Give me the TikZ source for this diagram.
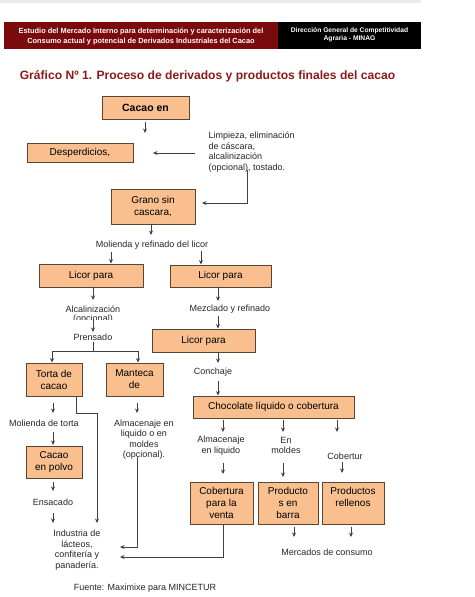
\documentclass[tikz,border=0pt]{standalone}
\usepackage{fontspec}
\setmainfont{Liberation Sans}
\usetikzlibrary{arrows.meta,calc}
\definecolor{boxfill}{HTML}{F9BF8F}
\definecolor{boxline}{HTML}{5A4535}
\definecolor{hdrred}{HTML}{7A0A0C}
\definecolor{titred}{HTML}{8B1A1A}
\definecolor{conn}{HTML}{404040}
\tikzset{
  box/.style={draw=boxline, line width=0.9pt, fill=boxfill, align=center, inner sep=1pt,
    font=\fontsize{10}{12}\selectfont},
  txt/.style={align=center, inner sep=0.5pt, font=\fontsize{9}{10.5}\selectfont, text=black!85},
  arr/.style={draw=conn, line width=0.75pt, -{Stealth[length=4.5pt,width=4pt]}},
  ln/.style={draw=conn, line width=0.75pt},
}
\begin{document}
\begin{tikzpicture}[x=1pt,y=-1pt]
\useasboundingbox (0,0) rectangle (474,597);
\fill[white] (0,0) rectangle (474,597);
\fill[black!8] (0,0) rectangle (421,3);
% header
\fill[hdrred] (4,22) rectangle (278,49);
\fill[black] (278,22) rectangle (421,49);
\node[align=center, text=white, font=\bfseries\fontsize{7.4}{10}\selectfont, inner sep=0] (hdrL) at (141,36.5)
  {Estudio del Mercado Interno para determinación y caracterización del\\Consumo actual y potencial de Derivados Industriales del Cacao};
\node[align=center, text=white, font=\bfseries\fontsize{6.7}{8.5}\selectfont, inner sep=0] (hdrR) at (349.5,35)
  {Dirección General de Competitividad\\Agraria - MINAG};
\node[text=titred, font=\bfseries\fontsize{12.1}{14}\selectfont, inner sep=0] (title) at (207.5,76)
  {Gráfico Nº 1. Proceso de derivados y productos finales del cacao};

% boxes
\node[box, minimum width=87, minimum height=23, font=\bfseries\fontsize{10.5}{12}\selectfont] (cacao) at (145.5,107.5) {Cacao en};
\node[box, minimum width=106, minimum height=19] (desp) at (80,152.5) {Desperdicios,};
\node[box, minimum width=84, minimum height=35] (grano) at (153,206.5) {Grano sin\\cascara,};
\node[box, minimum width=104, minimum height=23] (licA) at (91,275.5) {Licor para};
\node[box, minimum width=101, minimum height=22] (licB) at (220.5,276) {Licor para};
\node[box, minimum width=103, minimum height=23] (licC) at (203.5,340.5) {Licor para};
\node[box, minimum width=56, minimum height=33] (torta) at (54,379.5) {Torta de\\cacao};
\node[box, minimum width=57, minimum height=33] (mant) at (134.5,379.5) {Manteca\\de};
\node[box, minimum width=161, minimum height=22] (choc) at (273.5,407) {Chocolate líquido o cobertura};
\node[box, minimum width=56, minimum height=32] (polvo) at (54,462) {Cacao\\en polvo};
\node[box, minimum width=63, minimum height=42] (cobV) at (221.5,503) {Cobertura\\para la\\venta};
\node[box, minimum width=60, minimum height=42] (barra) at (288,503) {Producto\\s en\\barra};
\node[box, minimum width=62, minimum height=42] (rell) at (353,503) {Productos\\rellenos\\\mbox{}};

% text
\node[txt, align=left, anchor=west] (limp) at (208,152) {Limpieza, eliminación\\de cáscara,\\alcalinización\\(opcional), tostado.};
\node[txt] (mol) at (152,245) {Molienda y refinado del licor};
\node[txt] (alc) at (93,309) {Alcalinización};
\begin{scope}
\clip (40,313) rectangle (150,319.5);
\node[txt] (opc) at (93,319) {(opcional)};
\end{scope}
\node[txt] (pren) at (93,337) {Prensado};
\node[txt] (mez) at (230,309) {Mezclado y refinado};
\node[txt] (conch) at (213,372) {Conchaje};
\node[txt] (moltorta) at (44,423) {Molienda de torta};
\node[txt] (alm1) at (144,439.5) {Almacenaje en\\liquido o en\\moldes\\(opcional).};
\node[txt] (alm2) at (221,445.5) {Almacenaje\\en liquido};
\node[txt] (enm) at (286,445.5) {En\\moldes};
\node[txt] (cobT) at (345,456) {Cobertur};
\node[txt] (ens) at (53,502) {Ensacado};
\node[txt] (ind) at (77,550) {Industria de\\lácteos,\\confitería y\\panadería.};
\node[txt] (merc) at (327,552) {Mercados de consumo};
\node[txt] (fuente) at (145,588) {Fuente: Maximixe para MINCETUR};

% connectors
\coordinate (c1) at (145,133);
\draw[arr] ([yshift=-3pt]cacao.south -| c1) -- (c1);
\coordinate (l1) at (195,153);
\coordinate (d1) at (153,153);
\draw[arr] (l1) -- (d1);
\coordinate (l2) at (247,170);
\coordinate (g1) at (202,203);
\draw[arr] (l2) |- (g1);
\coordinate (g2) at (151,235);
\draw[arr] (grano.south -| g2) -- (g2);
\coordinate (q1) at (111,252);
\draw[arr] (q1) -- (licA.north -| q1);
\coordinate (q2) at (201,251);
\draw[arr] (q2) -- (licB.north -| q2);
\coordinate (a1) at (93,300);
\draw[arr] (licA.south -| a1) -- (a1);
\coordinate (a2) at (93,319);
\draw[arr] (a2) -- ([yshift=1pt]pren.north);
\coordinate (p1) at (93,351);
\coordinate (p2) at (52,351);
\coordinate (p3) at (138,351);
\draw[ln] ([yshift=-1pt]pren.south) -- (p1);
\draw[ln] (p2) -- (p3);
\draw[arr] (p2) -- (torta.north -| p2);
\draw[arr] (p3) -- (mant.north -| p3);
\coordinate (m1) at (218,301);
\draw[arr] (licB.south -| m1) -- (m1);
\coordinate (m2) at (218,316);
\draw[arr] (m2) -- (licC.north -| m2);
\coordinate (k1) at (218,363);
\draw[arr] (licC.south -| k1) -- (k1);
\coordinate (k2) at (218,381);
\draw[arr] (k2) -- (choc.north -| k2);
% torta branch
\draw[arr] (53,403) -- (53,413);
\draw[arr] (53,432) -- (53,445);
\coordinate (t0) at (76,396);
\coordinate (t1) at (97,523);
\draw[arr] (torta.south -| t0) -- (76,413) -- (97,413) -- (t1);
\draw[arr] (53,482) -- (53,491);
\draw[arr] (53,513) -- (53,523);
% manteca branch
\draw[arr] (137,403) -- (137,413);
\coordinate (i1) at (120,547);
\draw[arr] (137,457) |- (i1);
% chocolate branch
\draw[arr] (223,420) -- (223,432);
\draw[arr] (283,420) -- (283,432);
\draw[arr] (337,420) -- (337,432);
\draw[arr] (223,463) -- (223,474);
\draw[arr] (283,463) -- (283,477);
\draw[arr] (342,462) -- (342,473);
\coordinate (i2) at (120,557);
\coordinate (v0) at (223,524);
\draw[arr] (cobV.south -| v0) |- (i2);
\draw[arr] (294,527) -- (294,537);
\draw[arr] (351,527) -- (351,537);
\end{tikzpicture}
\end{document}
